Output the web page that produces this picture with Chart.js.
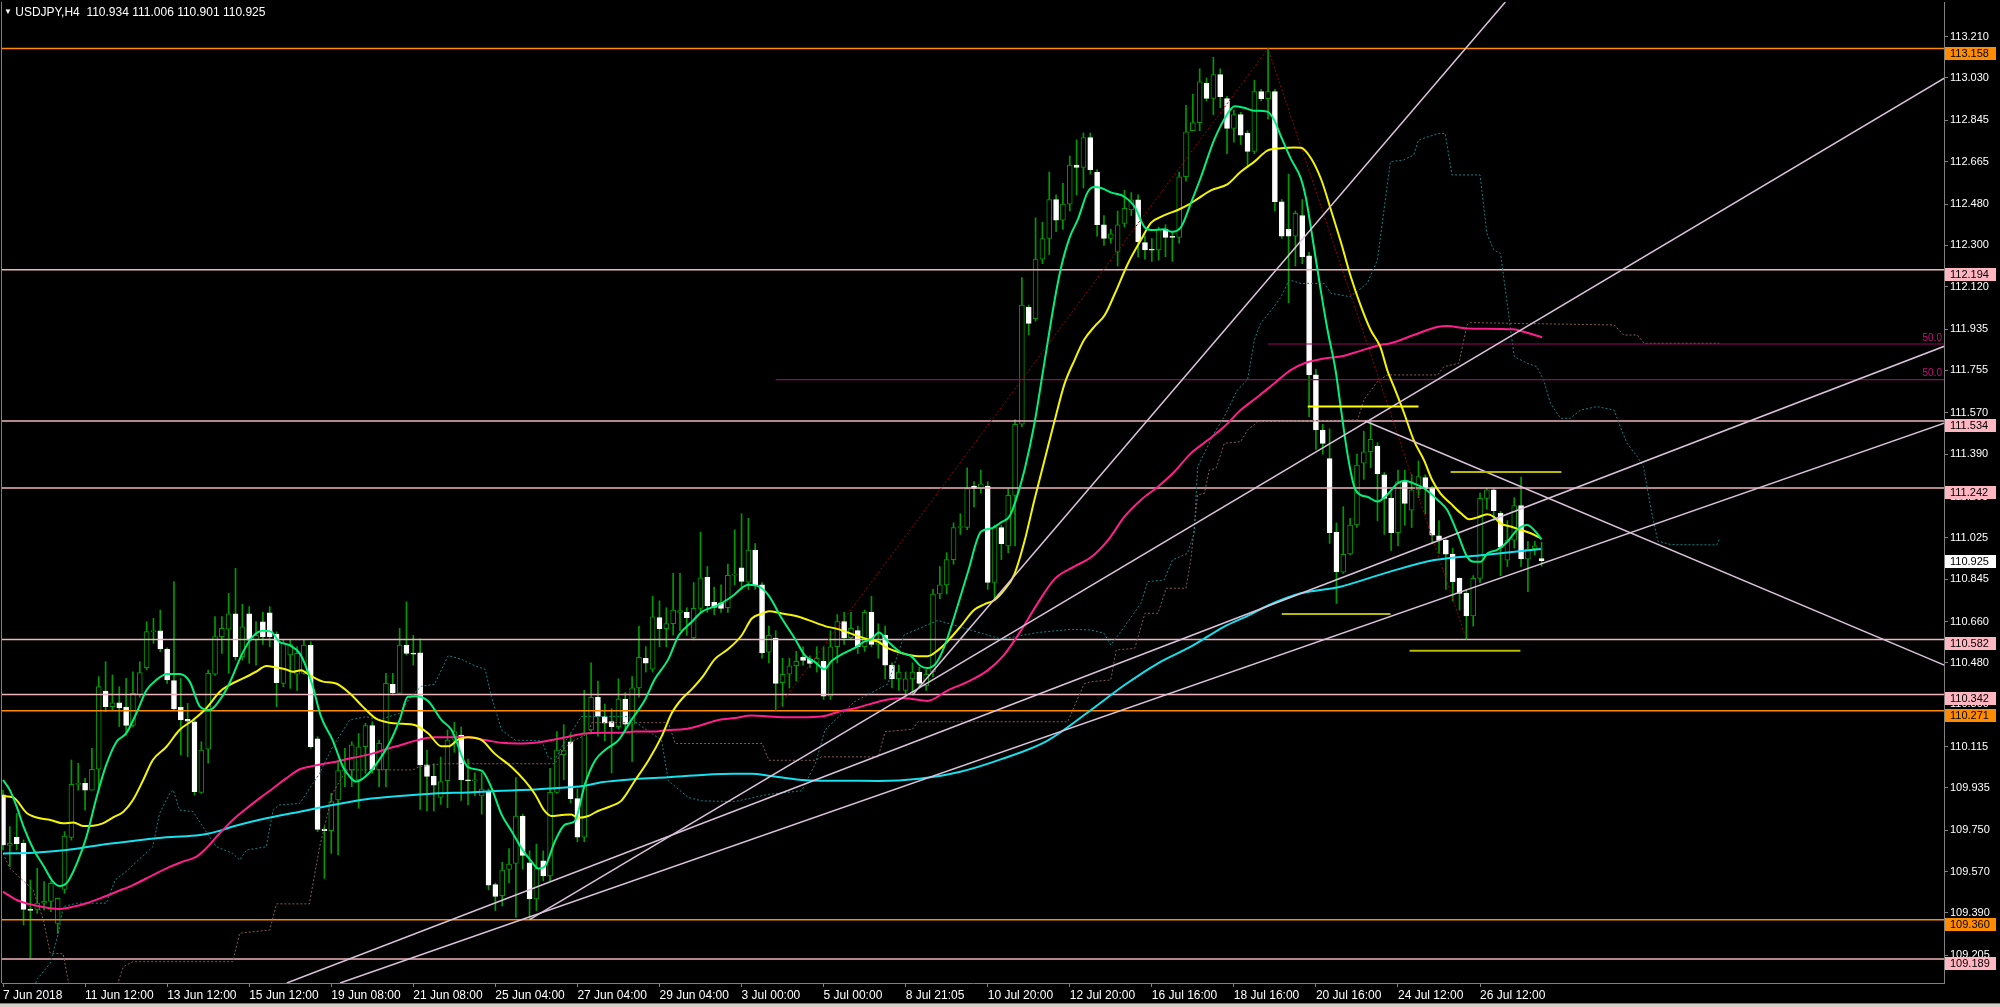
<!DOCTYPE html>
<html lang="en">
<head>
<meta charset="UTF-8">
<title>USDJPY,H4</title>
<script src="https://cdn.jsdelivr.net/npm/chart.js"></script>
<style>
  html, body { margin: 0; padding: 0; background: #000; }
  #wrap { position: relative; width: 2000px; height: 1007px; overflow: hidden; }
  #header { position: absolute; left: 4px; top: 5px; color: #fff; white-space: pre;
            font: 12px 'Liberation Sans', Arial, sans-serif; }
  #header .tri { font-size: 8px; position: relative; top: -2px; }
</style>
</head>
<body>
<div id="wrap">
  <canvas id="grafico" width="2000" height="1007"></canvas>
  <div id="header"></div>
</div>
<script>
// ---- candles (H4 bars, index 0 = 7 Jun 2018) ----
const opens = [
109.904,109.684,109.719,109.693,109.405,109.405,109.432,109.440,109.344,109.492,
109.719,109.950,109.954,109.925,110.016,110.357,110.289,110.306,110.287,110.207,
110.341,110.459,110.616,110.619,110.539,110.402,110.286,110.234,110.223,109.915,
110.103,110.430,110.594,110.627,110.693,110.507,110.693,110.579,110.659,110.698,
110.605,110.390,110.514,110.430,110.434,110.557,110.148,109.754,109.748,109.882,
110.010,110.013,109.969,110.114,110.206,110.013,110.013,110.386,110.347,110.557,
110.521,110.523,110.035,109.985,109.893,109.966,110.143,110.165,109.969,109.965,
109.900,109.915,109.513,109.465,109.579,109.605,109.812,109.608,109.451,109.617,
109.551,109.915,110.080,110.135,109.888,109.720,110.187,110.330,110.246,110.224,
110.202,110.322,110.213,110.371,110.499,110.452,110.677,110.629,110.651,110.700,
110.700,110.589,110.717,110.853,110.744,110.742,110.720,110.862,110.894,110.832,
110.972,110.820,110.526,110.588,110.393,110.430,110.467,110.504,110.496,110.480,
110.486,110.335,110.550,110.660,110.590,110.620,110.550,110.700,110.560,110.600,
110.470,110.410,110.360,110.410,110.440,110.380,110.440,110.780,110.820,110.930,
111.070,111.070,111.250,111.240,111.250,110.830,111.070,110.990,111.210,111.520,
112.030,111.980,112.240,112.330,112.500,112.410,112.480,112.650,112.640,112.770,
112.620,112.390,112.330,112.270,112.396,112.454,112.498,112.312,112.281,112.280,
112.370,112.338,112.335,112.599,112.800,112.835,113.006,112.941,113.045,112.940,
112.810,112.870,112.790,112.710,112.970,112.940,112.970,112.490,112.370,112.340,
112.430,112.254,111.735,111.495,111.370,111.050,110.875,110.955,111.081,111.350,
111.400,111.425,111.300,111.197,111.047,111.270,111.146,111.234,111.288,111.243,
111.034,111.015,110.954,110.848,110.783,110.684,110.848,111.197,111.234,111.132,
110.928,111.015,111.165,110.932,110.978,110.934];
const highs = [
109.925,109.766,109.824,109.708,109.533,109.584,109.526,109.526,109.455,109.744,
110.056,110.042,109.976,110.107,110.420,110.485,110.427,110.376,110.412,110.441,
110.485,110.659,110.674,110.710,110.545,110.834,110.412,110.303,110.238,110.136,
110.448,110.681,110.681,110.783,110.892,110.735,110.725,110.660,110.700,110.725,
110.615,110.579,110.579,110.550,110.580,110.572,110.158,109.766,109.911,110.056,
110.107,110.136,110.172,110.216,110.223,110.143,110.434,110.434,110.630,110.746,
110.600,110.585,110.099,110.040,110.069,110.187,110.220,110.200,110.060,110.000,
110.000,109.930,109.520,109.610,109.670,109.980,109.820,109.660,109.690,109.660,
110.020,110.180,110.210,110.170,109.930,110.360,110.480,110.400,110.300,110.280,
110.410,110.350,110.420,110.640,110.550,110.770,110.750,110.720,110.870,110.870,
110.720,110.830,111.050,110.900,110.810,110.820,110.910,111.060,111.130,111.110,
111.000,110.830,110.640,110.620,110.500,110.500,110.530,110.550,110.510,110.550,
110.550,110.620,110.690,110.700,110.700,110.640,110.710,110.770,110.650,110.640,
110.480,110.470,110.440,110.480,110.460,110.450,110.800,110.900,110.960,111.090,
111.130,111.330,111.270,111.320,111.270,111.080,111.080,111.240,111.540,112.160,
112.040,112.420,112.400,112.620,112.520,112.570,112.690,112.760,112.790,112.790,
112.630,112.430,112.370,112.450,112.540,112.530,112.520,112.340,112.330,112.380,
112.390,112.360,112.620,112.910,112.960,113.070,113.030,113.120,113.070,112.950,
112.890,112.880,112.800,113.020,112.980,113.158,112.980,112.500,112.610,112.450,
112.500,112.270,111.760,111.520,111.500,111.090,111.161,111.110,111.390,111.490,
111.534,111.440,111.310,111.220,111.320,111.320,111.300,111.360,111.300,111.250,
111.100,111.020,110.980,110.850,110.800,110.860,111.220,111.240,111.240,111.140,
111.100,111.200,111.290,111.010,111.010,111.006];
const lows = [
109.664,109.591,109.664,109.337,109.192,109.388,109.402,109.395,109.300,109.475,
109.707,109.925,109.838,109.925,109.925,110.267,110.274,110.202,110.165,110.202,
110.330,110.449,110.565,110.528,110.390,110.274,110.078,110.071,109.904,109.911,
110.042,110.425,110.521,110.434,110.492,110.492,110.478,110.470,110.560,110.550,
110.289,110.376,110.369,110.360,110.430,110.107,109.744,109.540,109.649,109.642,
109.940,109.940,109.846,109.998,109.998,109.940,109.940,110.340,110.347,110.514,
110.470,109.841,109.834,109.834,109.863,109.848,110.090,109.880,109.860,109.900,
109.820,109.490,109.400,109.420,109.520,109.370,109.580,109.360,109.400,109.530,
109.530,109.910,109.970,109.870,109.700,109.700,110.170,110.160,110.140,110.000,
110.190,110.180,110.050,110.330,110.440,110.440,110.550,110.550,110.600,110.620,
110.600,110.580,110.700,110.700,110.690,110.700,110.700,110.820,110.800,110.800,
110.800,110.500,110.480,110.271,110.290,110.370,110.400,110.470,110.460,110.440,
110.320,110.320,110.480,110.560,110.580,110.520,110.530,110.550,110.500,110.410,
110.370,110.360,110.330,110.340,110.370,110.360,110.420,110.760,110.780,110.910,
111.040,111.060,111.160,111.220,110.800,110.750,110.930,110.960,110.990,111.510,
111.910,111.970,112.220,112.260,112.360,112.370,112.450,112.520,112.550,112.610,
112.340,112.300,112.310,112.210,112.380,112.430,112.250,112.240,112.230,112.236,
112.250,112.230,112.310,112.580,112.800,112.800,112.930,112.870,112.900,112.700,
112.750,112.740,112.640,112.700,112.930,112.850,112.450,112.330,112.050,112.210,
112.220,111.553,111.410,111.390,111.000,110.739,110.870,110.950,111.070,111.280,
111.330,111.100,111.040,110.970,110.990,111.080,111.070,111.200,111.130,111.000,
110.957,110.800,110.750,110.710,110.582,110.640,110.830,111.150,111.100,110.860,
110.900,110.980,110.900,110.790,110.950,110.901];
const closes = [
109.686,109.693,109.690,109.405,109.400,109.432,109.440,109.519,109.453,109.725,
109.950,109.954,109.925,110.016,110.376,110.289,110.306,110.283,110.207,110.347,
110.437,110.616,110.619,110.541,110.405,110.279,110.231,110.225,109.918,110.100,
110.434,110.594,110.630,110.693,110.507,110.637,110.579,110.600,110.594,110.594,
110.393,110.565,110.560,110.521,110.557,110.114,109.754,109.748,109.875,110.010,
110.013,110.122,110.114,110.206,110.013,110.129,110.390,110.350,110.557,110.521,
110.518,110.035,109.985,109.947,109.962,110.143,110.180,109.969,109.965,109.968,
109.930,109.510,109.461,109.576,109.603,109.812,109.640,109.451,109.583,109.551,
109.915,110.099,110.100,109.888,109.720,110.175,110.330,110.246,110.217,110.202,
110.322,110.213,110.371,110.504,110.478,110.680,110.629,110.651,110.710,110.708,
110.677,110.717,110.850,110.729,110.722,110.717,110.861,110.866,110.835,110.972,
110.820,110.523,110.600,110.390,110.430,110.467,110.486,110.490,110.477,110.500,
110.335,110.550,110.660,110.590,110.630,110.550,110.700,110.560,110.580,110.470,
110.410,110.440,110.410,110.440,110.390,110.430,110.780,110.820,110.930,111.070,
111.072,111.240,111.240,111.260,110.830,111.070,110.999,111.210,111.520,112.040,
111.960,112.240,112.330,112.500,112.410,112.480,112.650,112.640,112.770,112.630,
112.390,112.330,112.350,112.390,112.461,112.498,112.316,112.280,112.279,112.370,
112.335,112.335,112.599,112.795,112.835,113.013,112.941,113.045,112.948,112.810,
112.870,112.780,112.710,112.970,112.940,112.970,112.490,112.340,112.340,112.440,
112.250,111.735,111.495,111.437,111.047,110.877,110.953,111.081,111.342,111.400,
111.454,111.303,111.197,111.047,111.270,111.175,111.234,111.292,111.240,111.037,
111.015,110.954,110.834,110.783,110.684,110.848,111.197,111.234,111.143,110.984,
111.015,111.165,110.933,110.976,110.990,110.925];

// ---- moving averages, read as [bar, price] ----
const maGreen = [[0,109.969],[1,109.925],[2,109.853],[3,109.766],[4.5,109.664],[6,109.591],[7.3,109.526],[8.3,109.507],[9.3,109.519],[10.8,109.606],[12.2,109.722],[13.7,109.896],[15,110.027],[16.6,110.136],[18,110.172],[19.5,110.26],[21,110.361],[22.4,110.405],[24,110.431],[25.8,110.431],[27.3,110.398],[28.8,110.289],[30.2,110.274],[31.7,110.318],[33.1,110.39],[35,110.521],[36.5,110.594],[38,110.62],[39.2,110.616],[40.4,110.572],[41.9,110.557],[43.4,110.521],[44.3,110.463],[45.3,110.376],[46.5,110.245],[48.2,110.143],[49.7,110.027],[50.7,109.984],[51.6,109.962],[53,109.984],[55,110.056],[56.5,110.129],[58,110.231],[59.2,110.332],[60.3,110.334],[62.2,110.312],[64.1,110.231],[65.6,110.187],[68,110.025],[70,110.01],[71.4,109.937],[72.9,109.819],[74.4,109.745],[75.8,109.672],[77.3,109.613],[78.3,109.583],[79.2,109.591],[80.7,109.701],[82.2,109.775],[83.6,109.789],[85.1,109.951],[86.6,110.055],[88,110.099],[90,110.143],[91.9,110.231],[93.9,110.32],[95.3,110.408],[97.3,110.496],[98.8,110.599],[100.7,110.658],[102.2,110.702],[104.6,110.732],[106.6,110.769],[109,110.82],[110.5,110.813],[111.9,110.776],[113.9,110.673],[115.8,110.585],[117.3,110.511],[118.8,110.482],[120.1,110.452],[121.2,110.489],[122.7,110.518],[124.5,110.544],[126,110.573],[127,110.583],[128.1,110.612],[129.4,110.573],[131.3,110.525],[132.8,110.509],[134.2,110.466],[135.2,110.457],[136.4,110.476],[137.7,110.554],[139.1,110.68],[141.1,110.875],[143,111.051],[144.5,111.066],[146,111.093],[147.2,111.119],[148.1,111.187],[149.4,111.323],[150.8,111.518],[152.3,111.791],[153.8,112.063],[154.7,112.2],[156,112.336],[157.2,112.414],[158.6,112.531],[159.6,112.554],[160.6,112.55],[162,112.531],[164,112.512],[165.5,112.468],[166.9,112.381],[167.9,112.367],[169.8,112.37],[171,112.359],[172.3,112.381],[173.7,112.483],[175.2,112.599],[177.1,112.759],[179.1,112.875],[180.1,112.907],[181.5,112.9],[183,112.887],[184.9,112.883],[185.9,112.846],[186.9,112.774],[188.3,112.679],[189.8,112.592],[190.5,112.512],[191.7,112.294],[192.7,112.105],[193.7,111.931],[194.9,111.75],[195.6,111.6],[196.6,111.393],[197.6,111.248],[198.5,111.212],[199.5,111.204],[201,111.183],[202.4,111.212],[203.9,111.262],[205,111.274],[206.3,111.262],[207.8,111.241],[209.8,111.19],[211.2,111.146],[212.7,111.045],[214.1,110.943],[215.1,110.921],[216.1,110.921],[217.1,110.957],[218.5,110.972],[220,111.008],[221.4,111.059],[222.9,111.081],[223.9,111.059],[225,111.018]];
const maYellow = [[0,109.899],[1.5,109.893],[3.5,109.824],[5.4,109.802],[6.9,109.795],[8.8,109.78],[10.3,109.784],[11.7,109.769],[13.2,109.77],[14.6,109.78],[16.1,109.806],[17.6,109.831],[19,109.882],[20.5,109.969],[21.9,110.056],[23.9,110.114],[25.8,110.187],[27.8,110.231],[29.7,110.281],[31.7,110.354],[33.1,110.383],[35.1,110.412],[37,110.441],[38.5,110.466],[39.9,110.46],[41.4,110.451],[42.4,110.441],[43.6,110.448],[44.8,110.427],[46.8,110.398],[48.7,110.39],[50.7,110.347],[52.6,110.289],[54.5,110.238],[56.5,110.219],[58.4,110.214],[60.2,110.209],[62.2,110.172],[64.1,110.116],[65.1,110.116],[66.6,110.146],[68,110.155],[70,110.143],[71.9,110.084],[74.4,110.025],[76.3,109.966],[77.8,109.907],[79.2,109.834],[80.2,109.812],[81.7,109.816],[83.1,109.819],[84.1,109.804],[85.6,109.812],[87,109.834],[89,109.856],[90.4,109.878],[92.4,109.966],[94.4,110.055],[96.3,110.158],[97.8,110.261],[99.2,110.32],[100.7,110.364],[102.2,110.415],[104.1,110.496],[106.1,110.541],[108,110.599],[109.5,110.673],[111,110.695],[112,110.705],[113.9,110.695],[115.8,110.685],[117.8,110.666],[120.2,110.64],[122.1,110.627],[124.5,110.602],[126.4,110.583],[127.9,110.573],[129.4,110.544],[130.8,110.528],[132.3,110.515],[133.8,110.509],[135.2,110.509],[136.7,110.534],[138.1,110.573],[140.1,110.641],[142,110.71],[143.5,110.735],[145,110.754],[146.4,110.797],[147.9,110.866],[149.4,111.012],[150.8,111.187],[152.3,111.362],[153.8,111.537],[155.2,111.693],[156.7,111.8],[158.1,111.888],[159.6,111.946],[161.1,111.995],[162.6,112.09],[164.5,112.22],[166.4,112.323],[167.9,112.399],[169.4,112.425],[170.3,112.437],[171.8,112.454],[173.3,112.476],[174.8,112.505],[176.7,112.541],[179.1,112.567],[181,112.621],[183,112.665],[184.9,112.713],[186.9,112.723],[188.8,112.727],[189.8,112.726],[191.3,112.679],[192.8,112.585],[194.2,112.454],[195.7,112.309],[197.1,112.163],[198.6,112.033],[200,111.931],[201.4,111.858],[202.5,111.75],[203.4,111.684],[204.9,111.568],[206.3,111.451],[207.8,111.364],[209,111.277],[210.2,111.219],[211.7,111.175],[213.2,111.132],[214.4,111.106],[215.6,111.114],[217.1,111.128],[218,111.117],[219,111.088],[220.5,111.074],[222,111.059],[223.4,111.045],[224.9,111.023]];
const maPink = [[0,109.482],[2,109.446],[4.4,109.424],[6.9,109.41],[8.3,109.407],[10.3,109.417],[12.2,109.432],[14.2,109.453],[16.6,109.482],[19,109.511],[21.5,109.548],[23.9,109.584],[26.3,109.613],[28.3,109.635],[29.7,109.671],[31.7,109.737],[33.6,109.795],[35.6,109.845],[37.5,109.889],[39.5,109.933],[41.4,109.976],[43.4,110.016],[44.8,110.027],[46.8,110.039],[48.7,110.049],[50.7,110.063],[52.1,110.071],[54.1,110.085],[56,110.103],[58.2,110.122],[60.6,110.143],[63.1,110.155],[65.6,110.155],[68,110.155],[70.5,110.143],[72.9,110.131],[75.3,110.128],[77.8,110.131],[80.2,110.143],[82.7,110.158],[85.1,110.172],[87.5,110.175],[90,110.175],[92.4,110.18],[94.9,110.18],[97.3,110.187],[99.7,110.191],[102.2,110.209],[104.6,110.231],[107,110.239],[109.5,110.25],[112,110.246],[114.4,110.243],[116.8,110.243],[119.7,110.246],[122.7,110.271],[124.5,110.281],[129.4,110.32],[131.8,110.326],[135.2,110.314],[138.1,110.359],[141.1,110.398],[144,110.447],[146.4,110.515],[148.9,110.622],[151.3,110.739],[153.8,110.846],[156.7,110.9],[159.1,110.94],[161.6,111.015],[164,111.117],[166.4,111.19],[168.9,111.248],[171.3,111.313],[173.7,111.393],[176.2,111.451],[178.6,111.51],[181,111.582],[183.5,111.64],[185.9,111.698],[188.3,111.756],[190.3,111.786],[193.2,111.807],[195.6,111.815],[198.5,111.84],[201.4,111.866],[202.9,111.873],[206.3,111.909],[209.9,111.945],[211.2,111.948],[214.1,111.938],[220.9,111.934],[222.4,111.923],[225.1,111.899]];
const maCyan = [[0,109.649],[4.4,109.652],[9.3,109.664],[14.2,109.686],[19,109.703],[23.9,109.719],[28.8,109.729],[31.2,109.744],[33.6,109.766],[38.5,109.802],[43.4,109.831],[48.2,109.86],[53.1,109.885],[58,109.899],[63.1,109.91],[68,109.915],[72.9,109.922],[77.8,109.928],[82.7,109.937],[85.1,109.944],[87.5,109.959],[92.4,109.973],[97.3,109.981],[102.2,109.991],[107,109.996],[109.5,109.996],[112,109.988],[114.4,109.978],[116.8,109.969],[119.7,109.966],[122.7,109.966],[128,109.965],[134,109.975],[140,110.005],[146,110.06],[152.7,110.14],[159.1,110.274],[164,110.383],[168.9,110.478],[173.7,110.55],[178.6,110.638],[182.4,110.69],[185,110.73],[189.8,110.783],[195.6,110.812],[202,110.87],[209.3,110.928],[216.6,110.95],[224.9,110.976]];

// ---- ichimoku spans (dotted, shifted 26 bars ahead) ----
const spanA = [[4.5,109.05],[4.9,109.097],[6.9,109.17],[8.1,109.301],[8.8,109.417],[10.8,109.432],[15.1,109.432],[16.4,109.533],[18,109.57],[21.9,109.678],[22.9,109.824],[24.4,109.911],[24.9,109.925],[25.8,109.838],[27.8,109.831],[29.2,109.766],[31.2,109.678],[33.6,109.649],[34.6,109.62],[35.6,109.664],[38.5,109.678],[39.5,109.838],[40.4,109.86],[43.4,109.867],[46.3,109.998],[48.2,110.114],[50.7,110.231],[53.1,110.245],[55,110.231],[58,110.26],[59.7,110.334],[61.2,110.378],[63.1,110.386],[65.1,110.511],[67,110.496],[69,110.467],[70.5,110.452],[71.4,110.334],[72.9,110.187],[74.9,110.143],[78.8,110.14],[79.7,110.069],[80.7,110.055],[81.7,110.113],[84.6,110.246],[91.4,110.246],[93.4,110.202],[96.3,110.143],[97.3,109.966],[100.2,109.893],[102.2,109.878],[107,109.875],[112,109.907],[116.8,109.922],[118.8,110.04],[120.2,110.187],[121.2,110.216],[124.5,110.31],[129.4,110.388],[131.8,110.602],[136.7,110.665],[141.6,110.622],[146,110.583],[151.3,110.612],[156.2,110.626],[159.1,110.623],[161,110.609],[162,110.558],[164,110.638],[166.4,110.739],[167.4,110.834],[169.8,110.841],[171,110.928],[173.2,110.957],[174.2,111.044],[174.7,111.335],[177.1,111.48],[178.6,111.553],[180.5,111.669],[182,111.713],[183,111.887],[183.9,111.96],[185.9,112.033],[186.9,112.076],[188.1,112.149],[189.8,112.134],[193.2,112.134],[194.2,112.091],[197,112.076],[199.5,112.134],[201,112.236],[202.4,112.556],[202.9,112.665],[204.8,112.672],[206.3,112.694],[207,112.759],[209.9,112.788],[210.9,112.788],[211.9,112.607],[216,112.607],[217,112.352],[218,112.28],[219,112.265],[221,111.815],[222.9,111.786],[224.3,111.771],[225.3,111.713],[226.3,111.611],[227.8,111.546],[229.2,111.546],[230.7,111.582],[233.1,111.597],[235.6,111.582],[236.5,111.51],[237.5,111.437],[239,111.379],[239.9,111.335],[241,111.15],[242,111.01],[244,110.995],[250.6,110.994],[251,111.02]];
const spanB = [[0,109.649],[1,109.584],[4.4,109.49],[5.9,109.359],[6.9,109.214],[8.8,109.211],[9.8,109.05],[16.4,109.05],[17.6,109.155],[19,109.177],[33.6,109.177],[34.6,109.301],[39,109.315],[40,109.429],[44.8,109.429],[46.3,109.678],[48.2,109.911],[50.2,110.013],[59.9,110.013],[60.9,110.027],[64.1,110.04],[80.7,110.04],[82.2,110.113],[83.6,110.143],[85.6,110.172],[86.1,110.219],[97.3,110.219],[98.3,110.128],[111,110.128],[112,110.055],[118.8,110.055],[119.7,110.07],[128,110.07],[129,110.18],[133,110.19],[133.8,110.223],[155.7,110.223],[158.1,110.388],[159.1,110.398],[162,110.405],[162.8,110.536],[165.5,110.543],[167,110.696],[168.9,110.696],[170.1,110.805],[173,110.805],[173.7,110.928],[174.7,111.212],[175.7,111.219],[176.4,111.321],[177.4,111.328],[178.6,111.437],[181,111.444],[182,111.495],[183.5,111.531],[198.1,111.539],[199,111.626],[201,111.706],[202.4,111.735],[209.8,111.735],[210.7,111.771],[212.9,111.786],[214.1,111.953],[214.6,111.963],[235.6,111.953],[237,111.909],[239,111.909],[240,111.873],[251,111.873]];

// ---- objects ----
const levelValues = [113.158, 112.194, 111.534, 111.242, 110.582, 110.342, 110.271, 109.360, 109.189];
const levelKinds  = ['orange', 'pink', 'pink', 'pink', 'pink', 'pink', 'orange', 'orange', 'pink'];
const trendLines = [[49.3,109.084,283.9,111.525],[41.5,109.084,283.9,111.86],[77,109.36,283.9,113.029],[133,110.34,219.7,113.361],[199.2,111.534,283.9,110.47]];
const zigzag = [[113,110.271],[185,113.158],[214,110.582]];
const fibStart = [185, 113];
const fibValues = [111.870, 111.7145];
const markSegments = [[190.8,207,111.597],[211.7,227.9,111.312],[187,202.9,110.693],[205.7,221.9,110.533]];

// ---- axes ----
const priceTicks = [113.210,113.030,112.845,112.665,112.480,112.300,112.120,111.935,111.755,111.570,111.390,111.205,111.025,110.845,110.660,110.480,110.300,110.115,109.935,109.750,109.570,109.390,109.205];
const dateLabels = ['7 Jun 2018','11 Jun 12:00','13 Jun 12:00','15 Jun 12:00','19 Jun 08:00','21 Jun 08:00','25 Jun 04:00','27 Jun 04:00','29 Jun 04:00','3 Jul 00:00','5 Jul 00:00','8 Jul 21:05','10 Jul 20:00','12 Jul 20:00','16 Jul 16:00','18 Jul 16:00','20 Jul 16:00','24 Jul 12:00','26 Jul 12:00'];
const dateIdx = dateLabels.map((_, k) => k * 12);

const xMin = -0.15, xMax = 283.85;
const yMin = 109.084, yMax = 113.361;
const N = closes.length;
const FONT = "'Liberation Sans', Arial, sans-serif";

document.getElementById('header').innerHTML =
  '<span class="tri">&#9660;</span> USDJPY,H4  ' +
  [opens[N-1], highs[N-1], lows[N-1], closes[N-1]].map(v => v.toFixed(3)).join(' ');

const pts = arr => arr.map(([x, y]) => ({ x, y }));
const isBull = i => closes[i] >= opens[i];
const colors = { orange: '#ff8c00', pink: '#f0b4bf' };

const datasets = [];

// wicks and bodies
datasets.push({
  type: 'bar', order: 20, grouped: false,
  data: closes.map((c, i) => ({ x: i, y: [lows[i], highs[i]] })),
  barThickness: 1, backgroundColor: '#009a00', borderWidth: 0
});
datasets.push({
  type: 'bar', order: 19, grouped: false,
  data: closes.map((c, i) => ({ x: i, y: [opens[i], c] })),
  barThickness: 5, minBarLength: 1, borderWidth: 1, borderSkipped: false,
  backgroundColor: c => isBull(c.dataIndex) ? '#000000' : '#ffffff',
  borderColor: c => isBull(c.dataIndex) ? '#009a00' : '#ffffff'
});

// horizontal levels
levelValues.forEach((v, k) => datasets.push({
  type: 'line', order: 12, data: [{ x: xMin, y: v }, { x: xMax, y: v }],
  borderColor: colors[levelKinds[k]], borderWidth: 1.5, pointRadius: 0
}));

// ichimoku spans
datasets.push({ type: 'line', order: 11, data: pts(spanA), borderColor: '#0f8686',
  borderWidth: 1, borderDash: [2, 2], pointRadius: 0 });
datasets.push({ type: 'line', order: 11, data: pts(spanB), borderColor: '#855c5c',
  borderWidth: 1, borderDash: [2, 2], pointRadius: 0 });

// fib 50% lines
fibValues.forEach((v, k) => datasets.push({
  type: 'line', order: 10, data: [{ x: fibStart[k], y: v }, { x: xMax, y: v }],
  borderColor: '#96085a', borderWidth: 1.2, pointRadius: 0
}));

// zigzag
datasets.push({ type: 'line', order: 9, data: pts(zigzag), borderColor: '#9a0000',
  borderWidth: 1, borderDash: [2, 2], pointRadius: 0 });

// moving averages
[[maCyan, '#16e0ee'], [maPink, '#ff1e8c'], [maYellow, '#f5f500'], [maGreen, '#00f07e']].forEach(([d, col], k) =>
  datasets.push({ type: 'line', order: 8 - k, data: pts(d), borderColor: col, borderWidth: 2,
    pointRadius: 0, cubicInterpolationMode: 'monotone' }));

// trend lines
trendLines.forEach(t => datasets.push({
  type: 'line', order: 2, data: [{ x: t[0], y: t[1] }, { x: t[2], y: t[3] }],
  borderColor: '#dcc3dc', borderWidth: 1.5, pointRadius: 0
}));

// short marker segments
markSegments.forEach((s, k) => datasets.push({
  type: 'line', order: 1, data: [{ x: s[0], y: s[2] }, { x: s[1], y: s[2] }],
  borderColor: k === 0 ? '#ffff00' : '#b9b900', borderWidth: 2, pointRadius: 0
}));

const overlay = {
  id: 'overlay',
  afterDraw(chart) {
    const { ctx, chartArea: a, scales: { x, y } } = chart;
    ctx.save();
    // frame left edge and bottom tab strip
    ctx.strokeStyle = '#808080'; ctx.lineWidth = 1;
    ctx.beginPath(); ctx.moveTo(1.5, a.top); ctx.lineTo(1.5, a.bottom); ctx.stroke();
    ctx.fillStyle = '#d4d0c8'; ctx.fillRect(0, 1003, 2000, 4);
    ctx.fillStyle = '#808080'; ctx.fillRect(0, 1003, 2000, 1);

    // 50.0 labels
    ctx.font = '10px ' + FONT; ctx.fillStyle = '#c8107e';
    ctx.textAlign = 'right'; ctx.textBaseline = 'bottom';
    fibValues.forEach(v => ctx.fillText('50.0', a.right - 2, y.getPixelForValue(v) - 1));

    // price level boxes
    ctx.font = '11px ' + FONT; ctx.textAlign = 'left'; ctx.textBaseline = 'middle';
    const box = (v, bg, dy) => {
      const py = Math.round(y.getPixelForValue(v) + dy);
      ctx.fillStyle = bg; ctx.fillRect(a.right + 1, py - 6, 51, 13);
      ctx.fillStyle = '#000'; ctx.fillText(v.toFixed(3), a.right + 6, py + 1);
    };
    levelValues.forEach((v, k) => box(v, levelKinds[k] === 'orange' ? '#ff8c00' : '#ffb6c1', 4));
    box(closes[N - 1], '#ffffff', 0);
    ctx.restore();
  }
};

Chart.defaults.font.family = FONT;
new Chart(document.getElementById('grafico'), {
  type: 'line',
  data: { datasets },
  options: {
    responsive: false, animation: false, normalized: true,
    layout: { padding: { left: 2, top: 2, right: 0, bottom: 0 } },
    plugins: { legend: { display: false }, tooltip: { enabled: false } },
    scales: {
      x: {
        type: 'linear', min: xMin, max: xMax, offset: false,
        afterBuildTicks: s => { s.ticks = dateIdx.map(v => ({ value: v })); },
        afterFit: s => { s.height = 24; s.paddingLeft = 0; s.paddingRight = 0; },
        ticks: { autoSkip: false, maxRotation: 0, align: 'start', color: '#ffffff', padding: 1,
                 font: { size: 12 }, callback: (v, k) => dateLabels[k] },
        grid: { offset: false, drawOnChartArea: false, drawTicks: true, tickLength: 4, color: '#808080' },
        border: { display: true, color: '#808080' }
      },
      y: {
        type: 'linear', position: 'right', min: yMin, max: yMax,
        afterBuildTicks: s => { s.ticks = priceTicks.map(v => ({ value: v })); },
        afterFit: s => { s.width = 56; s.paddingTop = 0; s.paddingBottom = 0; },
        ticks: { autoSkip: false, color: '#ffffff', padding: 2, font: { size: 11 },
                 callback: v => Number(v).toFixed(3) },
        grid: { drawOnChartArea: false, drawTicks: true, tickLength: 4, color: '#808080' },
        border: { display: true, color: '#808080' }
      }
    }
  },
  plugins: [overlay]
});
</script>
</body>
</html>
